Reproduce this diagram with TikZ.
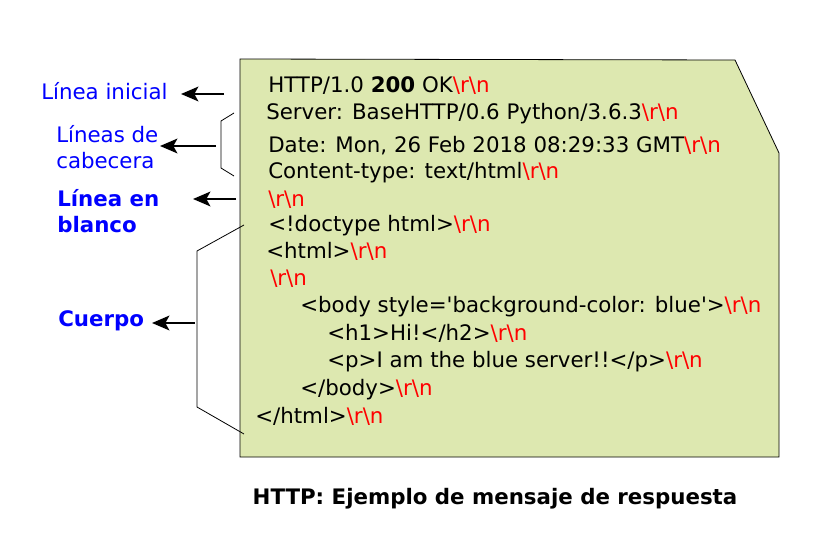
\documentclass[tikz,border=0pt]{standalone}
\usepackage{fontspec}
\setmainfont{DejaVu Sans}
\usetikzlibrary{arrows.meta}
\definecolor{msgfill}{RGB}{221,232,176}
\newcommand{\CRLF}{\textcolor{red}{\textbackslash r\textbackslash n}}
\begin{document}
\begin{tikzpicture}[x=0.75pt,y=-0.75pt,
    every node/.style={font=\fontsize{16}{19.5}\selectfont},
    msgline/.style={anchor=base west, inner sep=0pt},
    tag/.style={blue, align=left, anchor=west, inner sep=0pt},
    pointer/.style={-{Stealth[length=13pt,width=11pt,inset=3pt]}, line width=1.8pt},
    brk/.style={line width=0.6pt}]
    \useasboundingbox (0,0) rectangle (816,538);

    % Message box with folded corner
    \draw[fill=msgfill, line width=0.6pt] (240,59) -- (735,60) -- (779,153) -- (779,457) -- (240,457) -- cycle;

    % Start line and headers
    \node[msgline] (l1) at (268,93) {HTTP/1.0 \textbf{200} OK\CRLF};
    \node[msgline] (l2) at (266,120) {Server: BaseHTTP/0.6 Python/3.6.3\CRLF};
    \node[msgline] (l3) at (268,153) {Date: Mon, 26 Feb 2018 08:29:33 GMT\CRLF};
    \node[msgline] (l4) at (268,179) {Content-type: text/html\CRLF};
    \node[msgline] (l5) at (268,206) {\CRLF};

    % Body
    \node[msgline] (l6) at (268,231) {<!doctype html>\CRLF};
    \node[msgline] (l7) at (266,258) {<html>\CRLF};
    \node[msgline] (l8) at (270,285) {\CRLF};
    \node[msgline] (l9) at (300,312) {<body style=\textquotesingle background-color: blue\textquotesingle>\CRLF};
    \node[msgline] (l10) at (327,340) {<h1>Hi!</h2>\CRLF};
    \node[msgline] (l11) at (327,367) {<p>I am the blue server!!</p>\CRLF};
    \node[msgline] (l12) at (300,395) {</body>\CRLF};
    \node[msgline] (l13) at (255,423) {</html>\CRLF};

    % Labels on the left
    \node[tag] (tInit) at (41,91) {Línea inicial};
    \node[tag] (tHead) at (56,147) {Líneas de\\cabecera};
    \node[tag, font=\fontsize{16}{19.5}\selectfont\bfseries] (tBlank) at (57,211) {Línea en\\blanco};
    \node[tag, font=\fontsize{16}{19.5}\selectfont\bfseries] (tBody) at (58,321) {Cuerpo};

    % Brackets
    \draw[brk] (234,113) -- (221,121) -- (221,168) -- (234,176);
    \draw[brk] (244,225) -- (197,251) -- (197,407) -- (244,434);

    % Arrows
    \coordinate (pInit) at (224,94);
    \coordinate (pHead) at (216,146);
    \coordinate (pBlank) at (236,199);
    \coordinate (pBody) at (195,323);
    \draw[pointer] (pInit) -- (181,94);
    \draw[pointer] (pHead) -- (160,146);
    \draw[pointer] (pBlank) -- (193,199);
    \draw[pointer] (pBody) -- (152,323);

    % Caption
    \node[font=\fontsize{16}{19.5}\selectfont\bfseries] (title) at (495,499) {HTTP: Ejemplo de mensaje de respuesta};
\end{tikzpicture}
\end{document}
